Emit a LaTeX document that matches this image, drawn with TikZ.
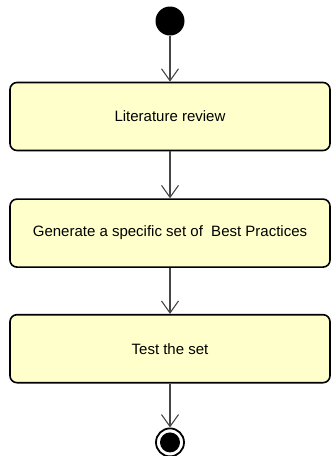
\documentclass[tikz,border=0pt]{standalone}
\usepackage{fontspec}
\setmainfont{Liberation Sans}
\usetikzlibrary{arrows.meta,positioning}
\definecolor{actfill}{RGB}{255,255,204}
\definecolor{flowgray}{RGB}{70,70,70}
\tikzset{
  action/.style={draw=black, line width=1.6pt, fill=actfill, rounded corners=7pt,
    minimum width=320pt, minimum height=68pt, inner sep=0pt,
    font=\fontsize{15}{18}\selectfont},
  flow/.style={flowgray, line width=1.1pt,
    -{Straight Barb[length=12pt,width=17pt,line width=1.1pt]}},
  startnode/.style={circle, fill=black, minimum size=29pt, inner sep=0pt},
  endnode/.style={circle, draw=black, line width=1.8pt, minimum size=28pt, inner sep=0pt,
    path picture={\fill[black] (path picture bounding box.center) circle (10pt);}},
}

\begin{document}
\begin{tikzpicture}[x=1pt,y=1pt]
\useasboundingbox (0,0) rectangle (331,-456);

% Activity nodes
\node[startnode] (start) at (170,-21) {};
\node[action, below=46pt of start] (review) {Literature review};
\node[action, below=47pt of review] (generate) {Generate a specific set of\ \ Best Practices};
\node[action, below=46pt of generate] (test) {Test the set};
\node[endnode, below=44pt of test] (end) {};

% Control flow
\draw[flow] (start) -- (review);
\draw[flow] (review) -- (generate);
\draw[flow] (generate) -- (test);
\draw[flow] (test) -- (end);
\end{tikzpicture}
\end{document}
